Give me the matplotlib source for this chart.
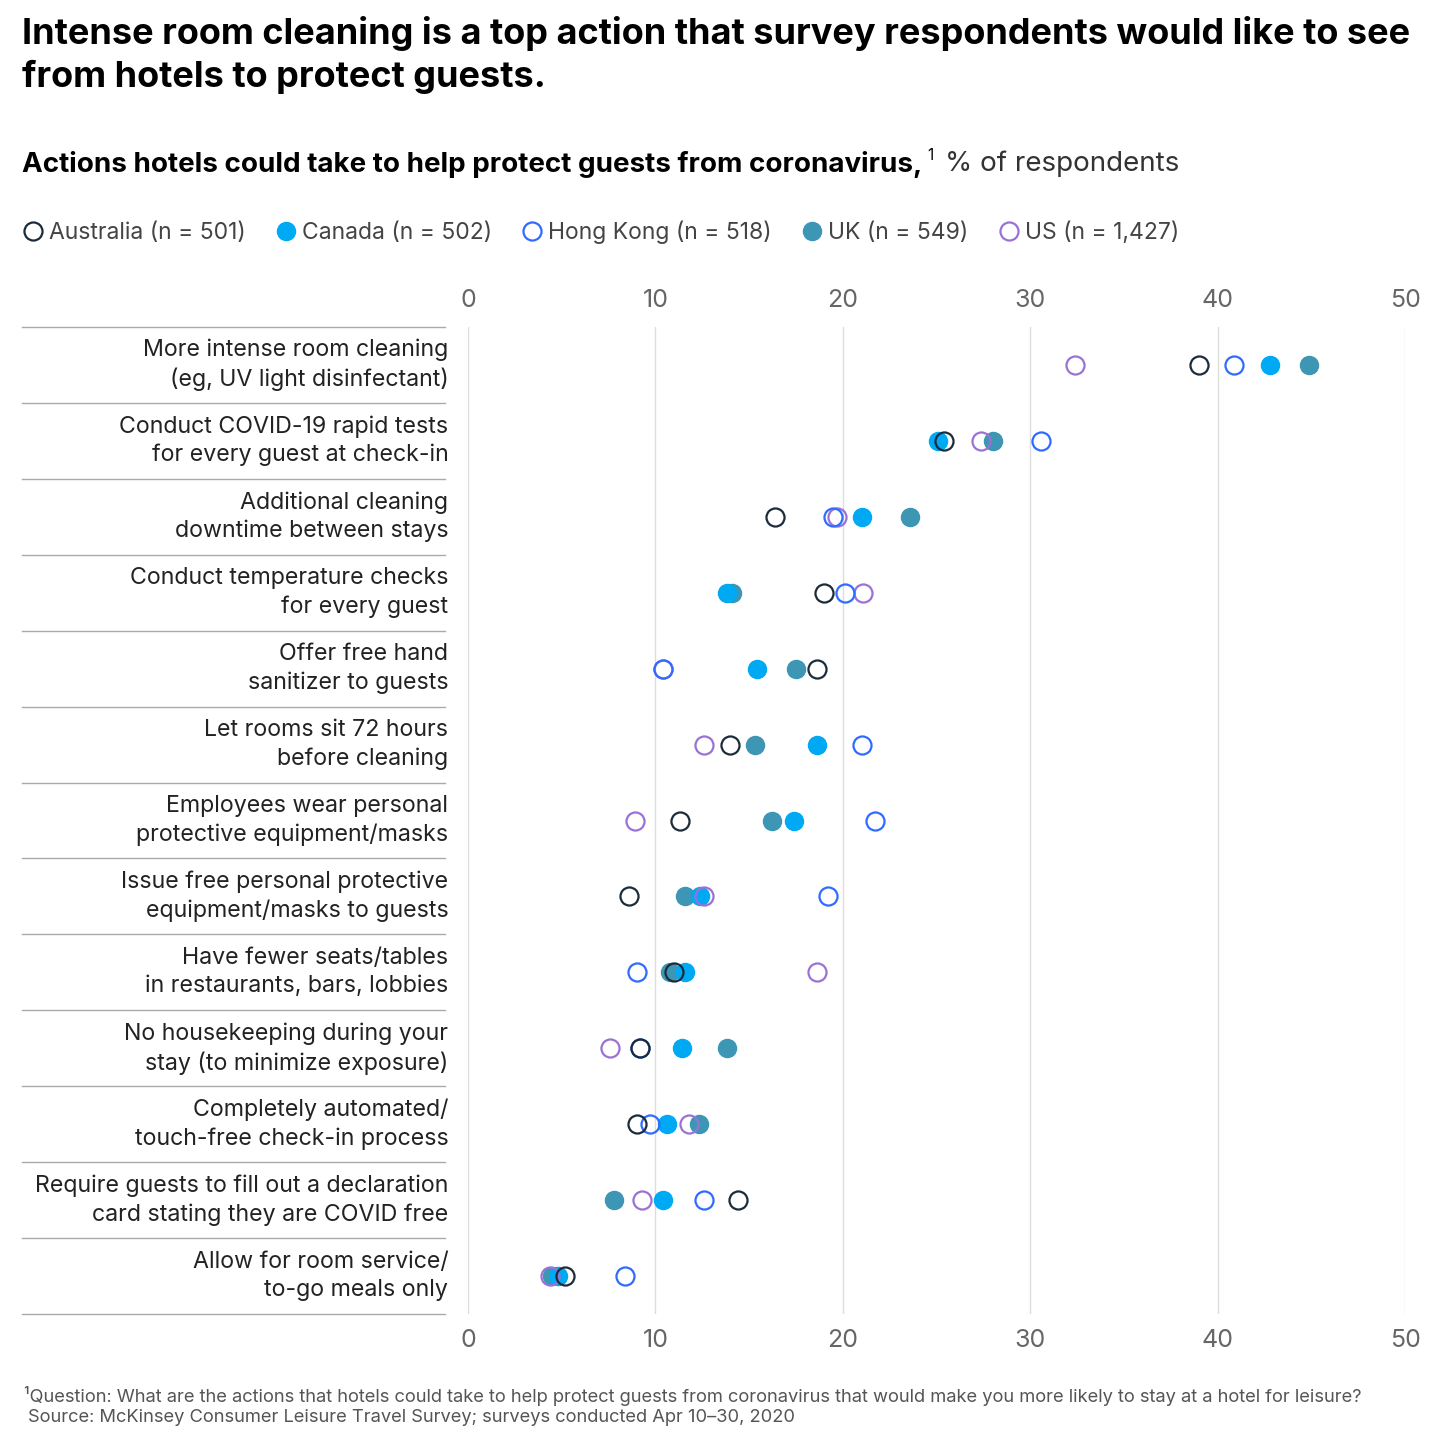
import matplotlib
matplotlib.use("Agg")
import matplotlib.pyplot as plt
from matplotlib.lines import Line2D

plt.rcParams['font.family'] = ['Inter', 'DejaVu Sans']

# actions, top to bottom
actions = [
    "More intense room cleaning\n(eg, UV light disinfectant)",
    "Conduct COVID-19 rapid tests\nfor every guest at check-in",
    "Additional cleaning\ndowntime between stays",
    "Conduct temperature checks\nfor every guest",
    "Offer free hand\nsanitizer to guests",
    "Let rooms sit 72 hours\nbefore cleaning",
    "Employees wear personal\nprotective equipment/masks",
    "Issue free personal protective\nequipment/masks to guests",
    "Have fewer seats/tables\nin restaurants, bars, lobbies",
    "No housekeeping during your\nstay (to minimize exposure)",
    "Completely automated/\ntouch-free check-in process",
    "Require guests to fill out a declaration\ncard stating they are COVID free",
    "Allow for room service/\nto-go meals only",
]

# % of respondents
australia = [39.0, 25.4, 16.4, 19.0, 18.6, 14.0, 11.3, 8.6, 11.0, 9.2, 9.0, 14.4, 5.2]
canada    = [42.8, 25.1, 21.0, 13.8, 15.4, 18.6, 17.4, 12.4, 11.6, 11.4, 10.6, 10.4, 4.8]
hong_kong = [40.9, 30.6, 19.5, 20.1, 10.4, 21.0, 21.7, 19.2, 9.0, 9.2, 9.7, 12.6, 8.4]
uk        = [44.9, 28.0, 23.6, 14.1, 17.5, 15.3, 16.2, 11.6, 10.8, 13.8, 12.3, 7.8, 4.5]
us        = [32.4, 27.4, 19.7, 21.1, 10.4, 12.6, 8.9, 12.6, 18.6, 7.6, 11.8, 9.3, 4.4]

legend_labels = ["Australia (n = 501)", "Canada (n = 502)", "Hong Kong (n = 518)",
                 "UK (n = 549)", "US (n = 1,427)"]

c_aus = '#1b2b3a'
c_can = '#00a9f4'
c_hk = '#2f6bff'
c_uk = '#3c96b4'
c_us = '#9a72d6'

fig = plt.figure(figsize=(14.4, 14.4), dpi=100)
ax = fig.add_axes([468/1440, 1 - 1314/1440, 937/1440, 987/1440])

rows = list(range(len(actions)))
ms = 13
# filled first, hollow rings on top
ax.plot(uk, rows, 'o', ms=ms, color=c_uk, mec=c_uk, ls='none', zorder=3)
ax.plot(canada, rows, 'o', ms=ms, color=c_can, mec=c_can, ls='none', zorder=3)
ax.plot(us, rows, 'o', ms=ms, mfc='none', mec=c_us, mew=1.6, ls='none', zorder=4)
ax.plot(hong_kong, rows, 'o', ms=ms, mfc='none', mec=c_hk, mew=1.6, ls='none', zorder=4)
ax.plot(australia, rows, 'o', ms=ms, mfc='none', mec=c_aus, mew=1.6, ls='none', zorder=4)

ax.set_xlim(0, 50)
ax.set_ylim(len(actions) - 0.5, -0.5)
ax.set_xticks([0, 10, 20, 30, 40, 50])
ax.set_yticks([])
ax.tick_params(axis='x', top=True, labeltop=True, bottom=True, labelbottom=True,
               length=0, pad=11, labelsize=18, labelcolor='#666666')
for s in ax.spines.values():
    s.set_visible(False)
ax.xaxis.grid(True, color='#dddddd', lw=1)
ax.set_axisbelow(True)

# row labels and separators on the left
trans = ax.get_yaxis_transform()
for i, a in enumerate(actions):
    ax.text(-0.021, i, a, transform=trans, ha='right', va='center',
            fontsize=16.7, color='#222222', linespacing=1.35)
for i in range(len(actions) + 1):
    ax.plot([-0.476, -0.0245], [i - 0.5, i - 0.5], transform=trans,
            color='#aaaaaa', lw=1, clip_on=False)

# titles
fig.text(22/1440, 1 - 16/1440, "Intense room cleaning is a top action that survey respondents would like to see\nfrom hotels to protect guests.",
         fontsize=26, fontweight='bold', va='top', linespacing=1.32, color='#000000')
fig.text(22/1440, 1 - 164/1440, "Actions hotels could take to help protect guests from coronavirus,",
         fontsize=20, fontweight='bold', va='center')
fig.text(927/1440, 1 - 156/1440, "1", fontsize=11, va='center')
fig.text(945/1440, 1 - 164/1440, "% of respondents", fontsize=20, va='center', color='#333333')

# legend
handles = [
    Line2D([], [], marker='o', ls='none', ms=13, mfc='none', mec=c_aus, mew=1.6),
    Line2D([], [], marker='o', ls='none', ms=13, color=c_can),
    Line2D([], [], marker='o', ls='none', ms=13, mfc='none', mec=c_hk, mew=1.6),
    Line2D([], [], marker='o', ls='none', ms=13, color=c_uk),
    Line2D([], [], marker='o', ls='none', ms=13, mfc='none', mec=c_us, mew=1.6),
]
leg = fig.legend(handles, legend_labels, loc='center left', bbox_to_anchor=(0/1440, 1 - 232/1440),
                 ncol=5, frameon=False, fontsize=16.5, handletextpad=0.15, columnspacing=1.2,
                 handlelength=1.1)
for t in leg.get_texts():
    t.set_color('#444444')

# footnotes
fig.text(24/1440, 1 - 1396/1440, "¹Question: What are the actions that hotels could take to help protect guests from coronavirus that would make you more likely to stay at a hotel for leisure?",
         fontsize=13.2, color='#555555', va='center')
fig.text(28/1440, 1 - 1418/1440, "Source: McKinsey Consumer Leisure Travel Survey; surveys conducted Apr 10–30, 2020",
         fontsize=13.2, color='#555555', va='center')

fig.savefig("out.png", dpi=100, facecolor='white')
